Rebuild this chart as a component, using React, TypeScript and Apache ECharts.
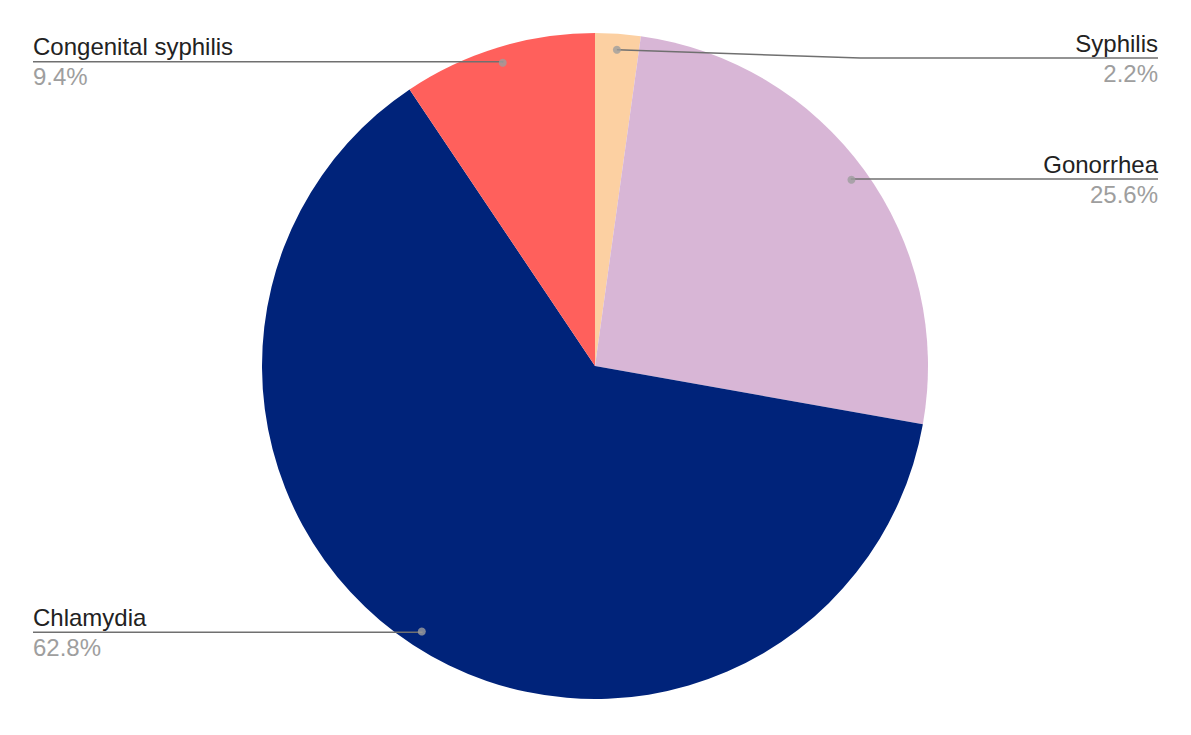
import * as React from "react";
import * as echarts from "echarts";

// STD case shares — slices go clockwise from 12 o'clock.
const CATEGORIES = ["Syphilis", "Gonorrhea", "Chlamydia", "Congenital syphilis"];
const SHARES = [2.2, 25.6, 62.8, 9.4];
const COLORS = ["#fcd0a2", "#d8b6d6", "#00237a", "#ff605c"];

const W = 1191;
const H = 735;
const CX = 595;
const CY = 366;
const R = 333;
const DOT_R = 317;
const EDGE = 33;

export default function App() {
  const ref = React.useRef<HTMLDivElement | null>(null);

  React.useEffect(() => {
    if (!ref.current) return;
    const chart = echarts.init(ref.current, undefined, { renderer: "svg" });

    const pieData = CATEGORIES.map((name, i) => ({
      name,
      value: SHARES[i],
      itemStyle: { color: COLORS[i] },
    }));

    // midpoints of each slice on a 0..100 angle scale, for the leader-line dots
    const total = SHARES.reduce((a, b) => a + b, 0);
    let acc = 0;
    const dots = SHARES.map((v) => {
      const mid = ((acc + v / 2) / total) * 100;
      acc += v;
      return [DOT_R / R, mid];
    });

    chart.setOption({
      animation: false,
      backgroundColor: "#ffffff",
      textStyle: { fontFamily: "'Liberation Sans', Arial, sans-serif" },
      polar: { center: [CX, CY], radius: R },
      angleAxis: {
        type: "value", min: 0, max: 100, startAngle: 90, clockwise: true,
        show: false, axisLine: { show: false }, splitLine: { show: false },
      },
      radiusAxis: {
        type: "value", min: 0, max: 1,
        show: false, axisLine: { show: false }, splitLine: { show: false },
      },
      series: [
        {
          type: "pie",
          center: [CX, CY],
          radius: R,
          startAngle: 90,
          clockwise: true,
          silent: true,
          label: { show: false },
          labelLine: { show: false },
          data: pieData,
          z: 1,
        },
        {
          // invisible ring at the dot radius that carries the labels
          type: "pie",
          center: [CX, CY],
          radius: DOT_R,
          startAngle: 90,
          clockwise: true,
          silent: true,
          percentPrecision: 1,
          itemStyle: { color: "rgba(0,0,0,0)" },
          data: CATEGORIES.map((name, i) => ({ name, value: SHARES[i] })),
          label: {
            show: true,
            position: "outside",
            alignTo: "edge",
            edgeDistance: EDGE,
            formatter: "{n|{b}}\n{p|{d}%}",
            rich: {
              n: { fontSize: 24, color: "#222222", lineHeight: 30, fontFamily: "'Liberation Sans', Arial, sans-serif" },
              p: { fontSize: 24, color: "#9e9e9e", lineHeight: 30, fontFamily: "'Liberation Sans', Arial, sans-serif" },
            },
          },
          labelLine: {
            show: true,
            length: 1,
            length2: 5,
            lineStyle: { color: "#707070", width: 1.5 },
          },
          labelLayout: (p: any) => {
            const pts = p.labelLinePoints;
            if (!pts) return {};
            const rect = p.labelRect;
            const start = pts[0];
            let cy = rect.y + rect.height / 2;
            let dy = 0;
            const minCy = 31 + rect.height / 2;
            if (cy < minCy) {
              dy = minCy - cy;
              cy = minCy;
            }
            const right = start[0] > CX;
            const endX = right ? W - EDGE : EDGE;
            const midX = Math.abs(cy - start[1]) > 1 ? start[0] + (endX - start[0]) * 0.45 : start[0];
            return {
              dy,
              labelLinePoints: [
                [start[0], start[1]],
                [midX, cy],
                [endX, cy],
              ],
            };
          },
          z: 2,
        },
        {
          type: "scatter",
          coordinateSystem: "polar",
          data: dots,
          symbolSize: 8,
          silent: true,
          itemStyle: { color: "#9e9e9e" },
          z: 3,
        },
      ],
    });

    return () => {
      chart.dispose();
    };
  }, []);

  return (
    <div
      ref={ref}
      style={{ position: "fixed", left: 0, top: 0, width: W, height: H }}
    />
  );
}
